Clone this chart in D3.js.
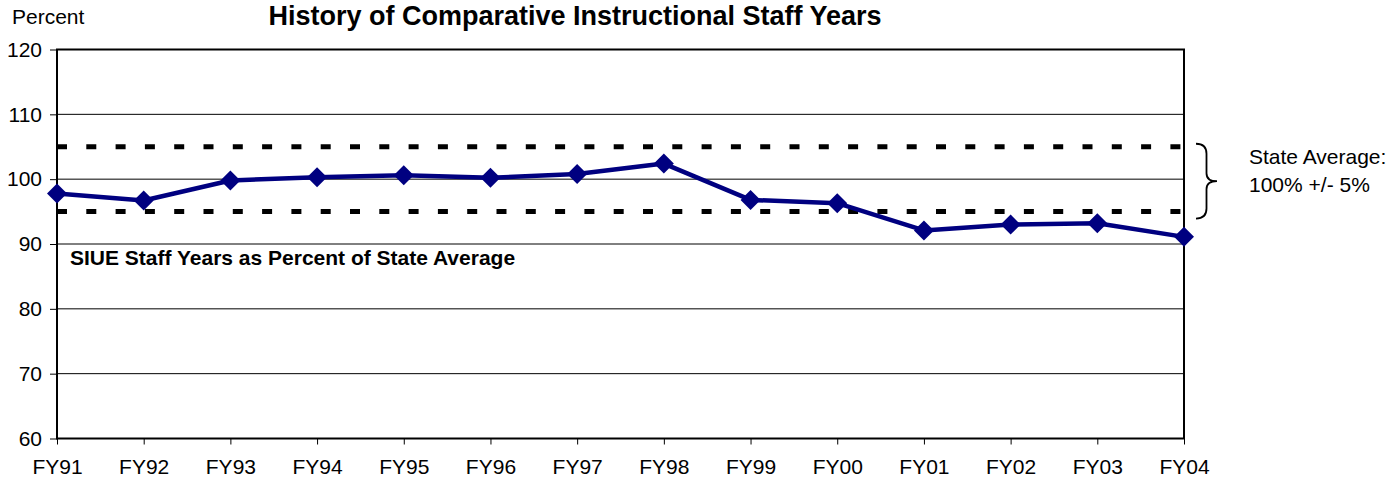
<!DOCTYPE html>
<html>
<head>
<meta charset="utf-8">
<script src="https://cdn.jsdelivr.net/npm/d3@7"></script>
<style>
  html, body { margin: 0; padding: 0; background: #fff; }
  svg { display: block; font-family: "Liberation Sans", Arial, sans-serif; }
</style>
</head>
<body>
<svg id="chart" width="1398" height="479"></svg>
<script>
// Fiscal years on the x axis
const years = ["FY91","FY92","FY93","FY94","FY95","FY96","FY97","FY98","FY99","FY00","FY01","FY02","FY03","FY04"];
// SIUE staff years as percent of the state average
const percentOfState = [97.8, 96.7, 99.8, 100.3, 100.6, 100.2, 100.8, 102.4, 96.8, 96.3, 92.1, 93.0, 93.2, 91.1];
// State average band: 100% +/- 5%
const bandBounds = [95, 105];
const yTicks = [60, 70, 80, 90, 100, 110, 120];

const svg = d3.select("#chart");
const margin = { top: 49.5, right: 214, bottom: 40.5, left: 57 };
const W = 1398, H = 479;
const x0 = margin.left, x1 = W - margin.right;
const y0 = H - margin.bottom, y1 = margin.top;
const fontFamily = "'Liberation Sans', Arial, sans-serif";

const x = d3.scalePoint().domain(years).range([x0, x1]);
const y = d3.scaleLinear().domain([60, 120]).range([y0, y1]);

// horizontal gridlines
svg.append("g").selectAll("line")
  .data(yTicks.filter(t => t > 60 && t < 120))
  .join("line")
  .attr("x1", x0).attr("x2", x1)
  .attr("y1", d => y(d)).attr("y2", d => y(d))
  .attr("stroke", "#000").attr("stroke-width", 1);

// dashed band boundaries
svg.append("g").selectAll("line")
  .data(bandBounds)
  .join("line")
  .attr("x1", x0).attr("x2", x1)
  .attr("y1", d => y(d)).attr("y2", d => y(d))
  .attr("stroke", "#000").attr("stroke-width", 5)
  .attr("stroke-dasharray", "10,19.3");

// plot frame
svg.append("rect")
  .attr("x", x0).attr("y", y1)
  .attr("width", x1 - x0).attr("height", y0 - y1)
  .attr("fill", "none").attr("stroke", "#000").attr("stroke-width", 2);

// y axis
const yAxis = svg.append("g")
  .attr("transform", `translate(${x0},0)`)
  .call(d3.axisLeft(y).tickValues(yTicks).tickSize(7).tickPadding(8).tickFormat(d3.format("d")));
yAxis.select(".domain").remove();
yAxis.selectAll("line").attr("stroke", "#000").attr("stroke-width", 1);
yAxis.selectAll("text").attr("font-size", 21).attr("fill", "#000")
  .attr("font-family", fontFamily);

// x axis
const xAxis = svg.append("g")
  .attr("transform", `translate(0,${y0})`)
  .call(d3.axisBottom(x).tickSize(6).tickPadding(15));
xAxis.select(".domain").remove();
xAxis.selectAll("line").attr("stroke", "#000").attr("stroke-width", 1);
xAxis.selectAll("text").attr("font-size", 21).attr("fill", "#000")
  .attr("font-family", fontFamily);

// data series
const pts = years.map((d, i) => ({ year: d, v: percentOfState[i] }));
svg.append("path")
  .datum(pts)
  .attr("fill", "none")
  .attr("stroke", "#000080")
  .attr("stroke-width", 4.5)
  .attr("stroke-linejoin", "round")
  .attr("d", d3.line().x(d => x(d.year)).y(d => y(d.v)));

svg.append("g").selectAll("path")
  .data(pts)
  .join("path")
  .attr("transform", d => `translate(${x(d.year)},${y(d.v)})`)
  .attr("d", "M0,-10L10,0L0,10L-10,0Z")
  .attr("fill", "#000080");

// titles and labels
svg.append("text").attr("x", 12).attr("y", 24)
  .attr("font-size", 21).text("Percent");
svg.append("text").attr("x", 575).attr("y", 25)
  .attr("text-anchor", "middle").attr("font-size", 27).attr("font-weight", "bold")
  .text("History of Comparative Instructional Staff Years");
svg.append("text").attr("x", 70).attr("y", 265)
  .attr("font-size", 21).attr("font-weight", "bold")
  .text("SIUE Staff Years as Percent of State Average");

// brace marking the state average band
const bt = y(bandBounds[1]) - 3, bb = y(bandBounds[0]) + 7, bm = (bt + bb) / 2;
const bx = 1196, bw = 10.5;
svg.append("path")
  .attr("d", `M${bx},${bt} Q${bx + bw},${bt} ${bx + bw},${bt + 10} L${bx + bw},${bm - 8} Q${bx + bw},${bm} ${bx + 2 * bw},${bm} Q${bx + bw},${bm} ${bx + bw},${bm + 8} L${bx + bw},${bb - 10} Q${bx + bw},${bb} ${bx},${bb}`)
  .attr("fill", "none").attr("stroke", "#000").attr("stroke-width", 1.8);

svg.append("text").attr("x", 1249).attr("y", 164)
  .attr("font-size", 21).text("State Average:");
svg.append("text").attr("x", 1249).attr("y", 192)
  .attr("font-size", 21).text("100% +/- 5%");
</script>
</body>
</html>
